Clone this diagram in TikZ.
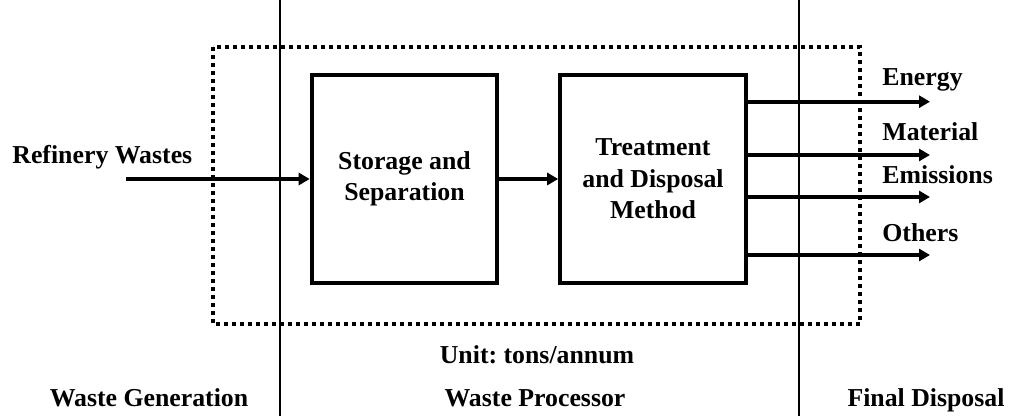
\documentclass[tikz,border=0pt]{standalone}
\usepackage{fontspec}
\setmainfont{Liberation Serif}
\usetikzlibrary{arrows.meta}
\begin{document}
\frenchspacing
\begin{tikzpicture}[x=0.5pt,y=-0.5pt,
  lbl/.style={font=\fontsize{12.9}{16}\selectfont\bfseries, inner sep=0pt, align=center},
  box/.style={draw, line width=2pt, minimum width=92.8pt, minimum height=104pt, inner sep=0pt,
    font=\fontsize{12.9}{15.8}\selectfont\bfseries, align=center},
  flow/.style={line width=2pt, -{Triangle[length=5.5pt,width=6pt]}},
  divider/.style={line width=0.75pt},
  border/.style={line width=2pt, dash pattern=on 2pt off 2pt}]
\useasboundingbox (0,0) rectangle (1014,416);
% dividers
\coordinate (d1t) at (280,0); \coordinate (d1b) at (280,416);
\coordinate (d2t) at (799,0); \coordinate (d2b) at (799,416);
\draw[divider] (d1t) -- (d1b);
\draw[divider] (d2t) -- (d2b);
% dotted processor boundary
\draw[border] (213,47) rectangle (860,324);
% boxes
\node[box] (st) at (404.5,179) {Storage and\\Separation};
\node[box] (tr) at (653,179) {Treatment\\and Disposal\\Method};
% input
\node[lbl, anchor=west] (rw) at (12,157) {Refinery Wastes};
\coordinate (in) at (126,179);
\draw[flow] (in) -- (st.west);
\draw[flow] (st.east) -- (tr.west);
% outputs
\foreach \y/\n in {101.7/e, 155/m, 197/x, 255/o} {
  \coordinate (s\n) at (tr.east |- 0,\y);
  \coordinate (t\n) at (930,\y);
  \draw[flow] (s\n) -- (t\n);
}
\node[lbl, anchor=west] (en) at (882,80) {Energy};
\node[lbl, anchor=west] (ma) at (882,132) {Material};
\node[lbl, anchor=west] (em) at (882,175) {Emissions};
\node[lbl, anchor=west] (ot) at (882,233) {Others};
% bottom labels
\node[lbl] (unit) at (537,355) {Unit: tons/annum};
\node[lbl, anchor=base] (wg) at (149,407) {Waste Generation};
\node[lbl, anchor=base] (wp) at (535,407) {Waste Processor};
\node[lbl, anchor=base] (fd) at (926,407) {Final Disposal};
\end{tikzpicture}
\end{document}
